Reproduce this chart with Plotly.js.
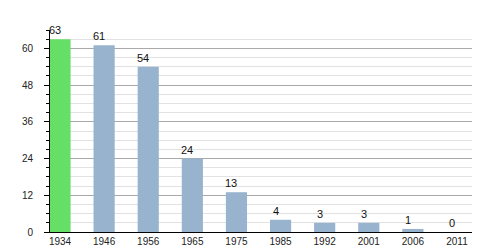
<!DOCTYPE html>
<html>
<head>
<meta charset="utf-8">
<script src="https://cdn.plot.ly/plotly-3.0.1.min.js"></script>
<style>html,body{margin:0;padding:0;background:#fff;}#chart{width:500px;height:250px;}</style>
</head>
<body>
<div id="chart"></div>
<script>
const years = ["1934","1946","1956","1965","1975","1985","1992","2001","2006","2011"];
const values = [63, 61, 54, 24, 13, 4, 3, 3, 1, 0];
const barColors = ["#66df66","#98b3cd","#98b3cd","#98b3cd","#98b3cd","#98b3cd","#98b3cd","#98b3cd","#98b3cd","#98b3cd"];

const trace = {
  type: 'bar',
  x: years,
  y: values,
  width: 0.48,
  marker: {color: barColors, line: {width: 0}},
  hoverinfo: 'skip'
};

const annotations = years.map((yr, i) => ({
  x: i, y: values[i], xref: 'x', yref: 'y',
  text: String(values[i]), showarrow: false,
  xanchor: 'center', yanchor: 'bottom', xshift: -5, yshift: 1,
  font: {family: 'Liberation Sans, Arial, sans-serif', size: 11, color: '#111'}
}));

const layout = {
  width: 500, height: 250,
  margin: {l: 50, r: 28, t: 30, b: 18, pad: 0},
  paper_bgcolor: '#fff', plot_bgcolor: '#fff',
  showlegend: false,
  bargap: 0.5,
  font: {family: 'Liberation Sans, Arial, sans-serif', size: 10, color: '#222'},
  xaxis: {
    type: 'category',
    range: [-0.227, 9.34],
    showline: true, linecolor: '#000', linewidth: 1,
    ticks: '', showgrid: false, zeroline: false,
    tickfont: {size: 10, color: '#222'}
  },
  yaxis: {
    range: [0, 66],
    tick0: 0, dtick: 12,
    showline: true, linecolor: '#000', linewidth: 1,
    ticks: 'outside', ticklen: 5, tickcolor: '#000',
    ticklabelstandoff: 9,
    showgrid: true, gridcolor: '#a9a9a9', gridwidth: 1,
    zeroline: false,
    tickfont: {size: 10, color: '#222'},
    minor: {dtick: 3, tick0: 0, showgrid: true, gridcolor: '#e2e2e2', gridwidth: 1, ticks: 'outside', ticklen: 3, tickcolor: '#000'}
  },
  annotations: annotations
};

Plotly.newPlot('chart', [trace], layout, {displayModeBar: false, staticPlot: true});
</script>
</body>
</html>
